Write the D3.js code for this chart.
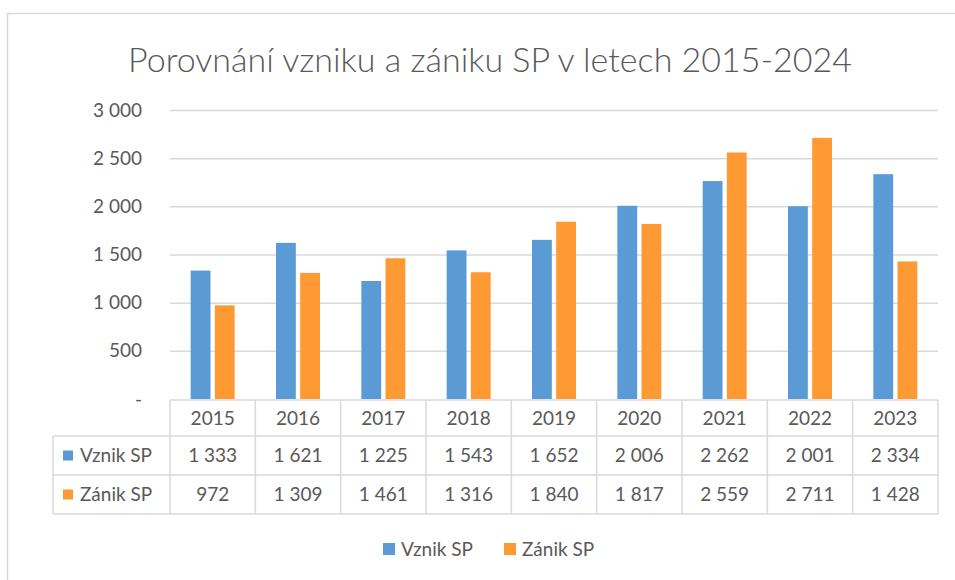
<!DOCTYPE html>
<html>
<head>
<meta charset="utf-8">
<script src="https://cdn.jsdelivr.net/npm/d3@7"></script>
<style>
  body { margin: 0; background: #fff; }
  svg text { font-family: Lato, "Open Sans", sans-serif; fill: #595959; }
</style>
</head>
<body>
<svg width="955" height="580"></svg>
<script>
const YEARS = ["2015", "2016", "2017", "2018", "2019", "2020", "2021", "2022", "2023"];
const SERIES = ["Vznik SP", "Zánik SP"];
const VZNIK = [1333, 1621, 1225, 1543, 1652, 2006, 2262, 2001, 2334];
const ZANIK = [972, 1309, 1461, 1316, 1840, 1817, 2559, 2711, 1428];
const Y_TICKS = [0, 500, 1000, 1500, 2000, 2500, 3000];
const COLORS = ["#5B9BD5", "#FF9933"];
const TITLE = "Porovnání vzniku a zániku SP v letech 2015-2024";

const PLOT = { left: 170, right: 938, top: 110, bottom: 399 };
const ROW_H = [36, 39, 39];
const GRID = "#d9d9d9";

// cz formatting: space as thousands separator
const fmtCell = (v) => d3.format(",")(v).replace(/,/g, " ");
const fmt = (v) => v === 0 ? "-" : fmtCell(v);

const svg = d3.select("svg");

// chart frame
svg.append("rect")
	.attr("x", 7.5).attr("y", 13.5)
	.attr("width", 980).attr("height", 600)
	.attr("fill", "none")
	.attr("stroke", "#d9d9d9")
	.attr("stroke-width", 1.5);

svg.append("text")
	.attr("x", 490)
	.attr("y", 72)
	.attr("text-anchor", "middle")
	.attr("font-size", 34)
	.attr("font-weight", 300)
	.text(TITLE);

const data = YEARS.map((year, i) => ({ key: year, values: [VZNIK[i], ZANIK[i]] }));

const x0 = d3.scaleBand()
	.domain(YEARS)
	.range([PLOT.left, PLOT.right])
	.paddingInner(0);

const x1 = d3.scaleBand()
	.domain(SERIES)
	.range([-22, 22])
	.paddingInner(0.18);

const y = d3.scaleLinear()
	.domain([0, 3000])
	.range([PLOT.bottom, PLOT.top]);

const z = d3.scaleOrdinal().domain(SERIES).range(COLORS);

// gridlines + y labels
const yAxis = svg.append("g")
	.attr("transform", "translate(" + PLOT.left + ",0)")
	.call(d3.axisLeft(y).tickValues(Y_TICKS).tickSize(-(PLOT.right - PLOT.left)).tickFormat(fmt).tickPadding(28));
yAxis.select(".domain").remove();
yAxis.selectAll(".tick line")
	.attr("stroke", GRID)
	.attr("stroke-width", 1.5)
	.attr("display", (d) => d === 0 ? "none" : null);
yAxis.selectAll(".tick text")
	.attr("font-size", 19)
	.attr("fill", "#595959")
	.attr("font-family", "Lato, sans-serif");

// bars
svg.append("g")
	.selectAll("g")
	.data(data)
	.enter().append("g")
	.attr("transform", (d) => "translate(" + (x0(d.key) + x0.bandwidth() / 2) + ",0)")
	.selectAll("rect")
	.data((d) => d.values.map((v, i) => ({ key: SERIES[i], value: v })))
	.enter().append("rect")
	.attr("x", (d) => x1(d.key))
	.attr("y", (d) => y(d.value))
	.attr("width", x1.bandwidth())
	.attr("height", (d) => y(0) - y(d.value))
	.attr("fill", (d) => z(d.key));

// data table
const tableTop = PLOT.bottom + 1;
const rowY = [tableTop, tableTop + ROW_H[0], tableTop + ROW_H[0] + ROW_H[1], tableTop + ROW_H[0] + ROW_H[1] + ROW_H[2]];
const labelLeft = 53;
const table = svg.append("g").attr("stroke", GRID).attr("stroke-width", 1.5);

table.append("line").attr("x1", PLOT.left).attr("x2", PLOT.right).attr("y1", rowY[0]).attr("y2", rowY[0]);
[1, 2, 3].forEach((r) => {
	table.append("line").attr("x1", labelLeft).attr("x2", PLOT.right).attr("y1", rowY[r]).attr("y2", rowY[r]);
});
table.append("line").attr("x1", labelLeft).attr("x2", labelLeft).attr("y1", rowY[1]).attr("y2", rowY[3]);
YEARS.forEach((yr) => {
	table.append("line").attr("x1", x0(yr)).attr("x2", x0(yr)).attr("y1", rowY[0]).attr("y2", rowY[3]);
});
table.append("line").attr("x1", PLOT.right).attr("x2", PLOT.right).attr("y1", rowY[0]).attr("y2", rowY[3]);

const cellText = (x, yy, t, anchor) => svg.append("text")
	.attr("x", x).attr("y", yy)
	.attr("dy", "0.35em")
	.attr("text-anchor", anchor || "middle")
	.attr("font-size", 19)
	.text(t);

YEARS.forEach((yr, i) => {
	const cx = x0(yr) + x0.bandwidth() / 2;
	cellText(cx, (rowY[0] + rowY[1]) / 2, yr);
	cellText(cx, (rowY[1] + rowY[2]) / 2, fmtCell(VZNIK[i]));
	cellText(cx, (rowY[2] + rowY[3]) / 2, fmtCell(ZANIK[i]));
});

SERIES.forEach((s, i) => {
	const cy = (rowY[i + 1] + rowY[i + 2]) / 2;
	svg.append("rect")
		.attr("x", 63).attr("y", cy - 5)
		.attr("width", 10).attr("height", 10)
		.attr("fill", COLORS[i]);
	cellText(80, cy, s, "start");
});

// legend
const legend = svg.append("g")
	.selectAll("g")
	.data(SERIES)
	.enter().append("g")
	.attr("transform", (d, i) => "translate(" + (383 + i * 121) + ",543)");

legend.append("rect")
	.attr("width", 12).attr("height", 12)
	.attr("fill", z);

legend.append("text")
	.attr("x", 18).attr("y", 6)
	.attr("dy", "0.35em")
	.attr("font-size", 19)
	.text((d) => d);
</script>
</body>
</html>
